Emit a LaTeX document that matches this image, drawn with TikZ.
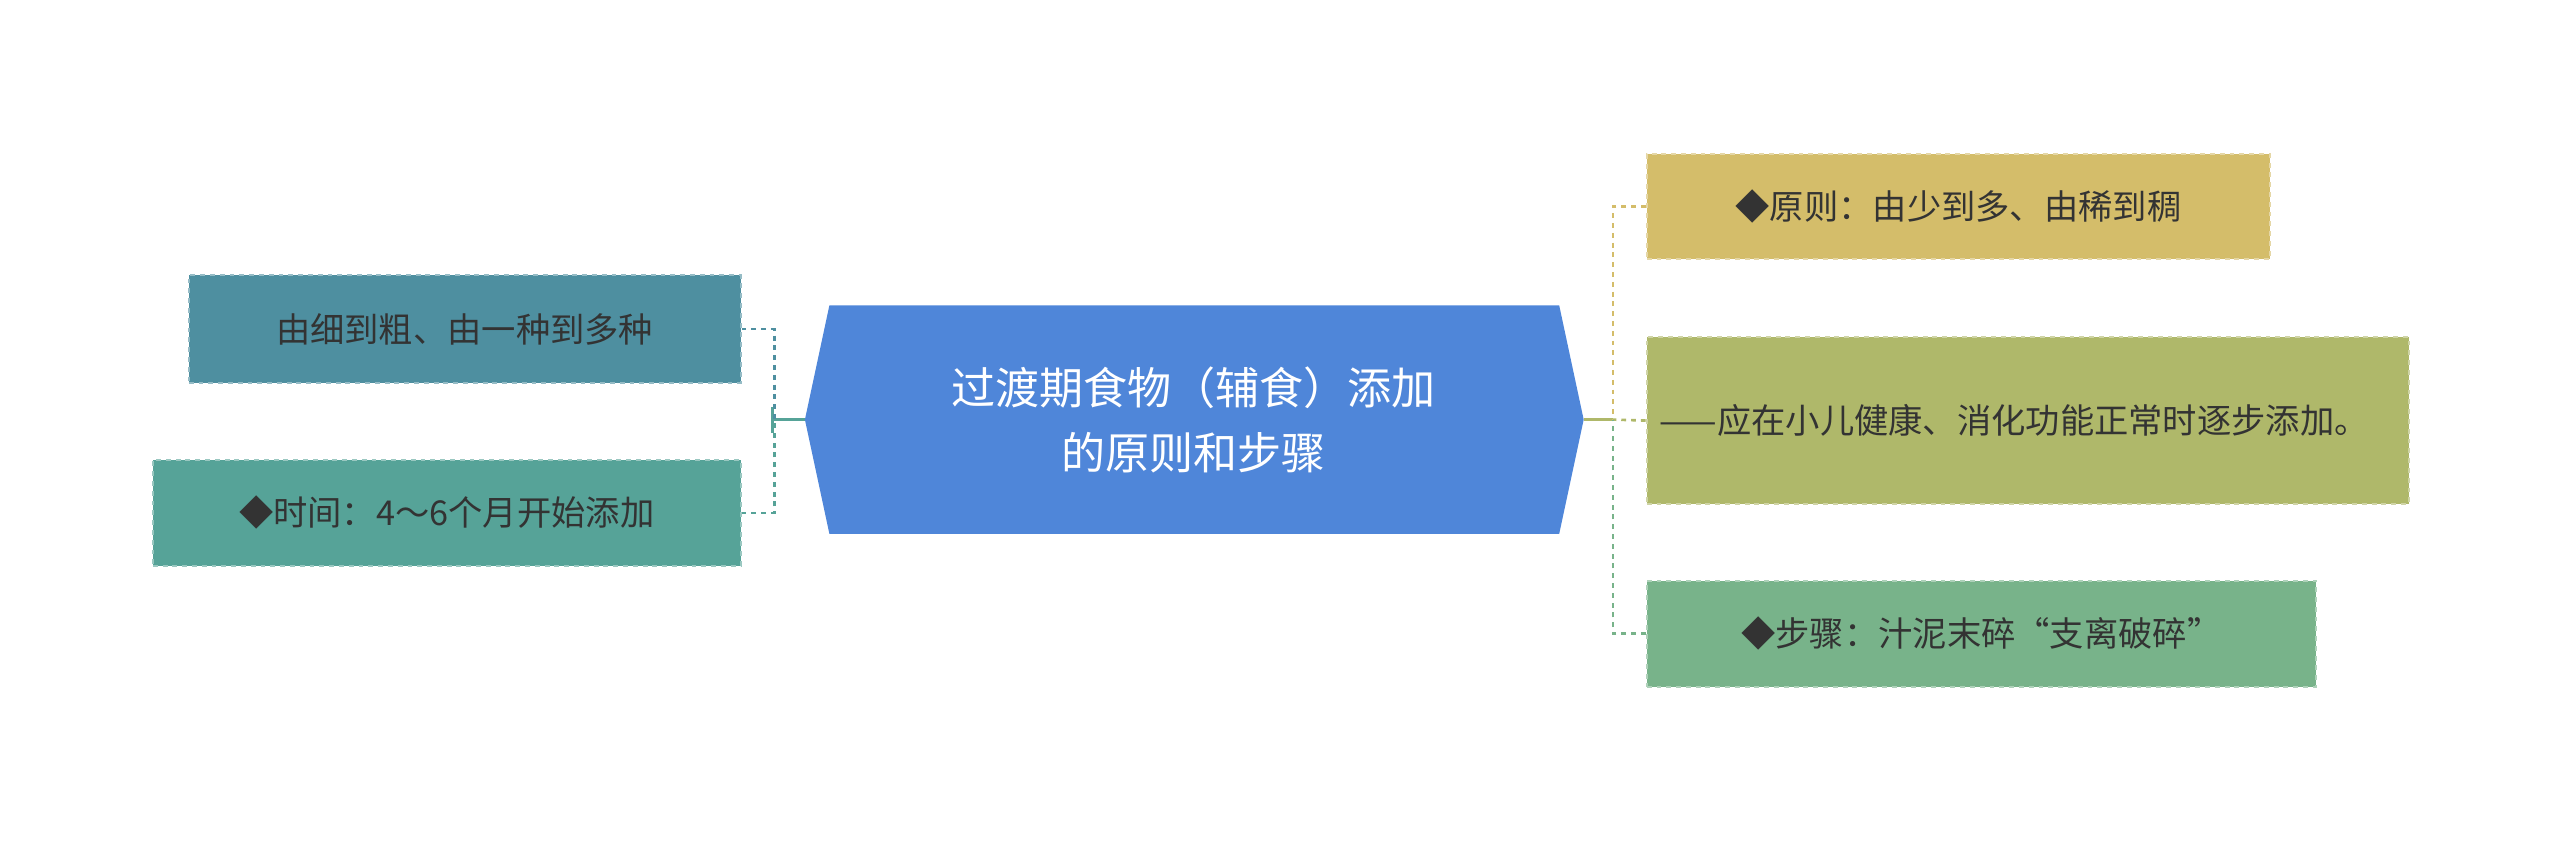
\documentclass[tikz,border=0pt]{standalone}
\usepackage{fontspec}
\setmainfont{Noto Sans CJK SC}
\begin{document}
\begin{tikzpicture}[x=1pt,y=-1pt,
 box/.style={draw,dashed,line width=1.2pt,anchor=north west,inner sep=0pt,text=black!80,font=\fontsize{21}{30}\selectfont,align=left},
 conn/.style={dashed,line width=1.6pt}]
\definecolor{cA}{HTML}{4E8FA0}\definecolor{cB}{HTML}{56A398}
\definecolor{cC}{HTML}{D4BD6A}\definecolor{cD}{HTML}{AFB86A}
\definecolor{cE}{HTML}{78B38A}\definecolor{cM}{HTML}{4F86D9}
\useasboundingbox (0,0) rectangle (1568,515);
% center
\fill[cM] (493,257) coordinate (cl) -- (508,187) -- (955,187) -- (970,257) coordinate (cr) -- (955,327) -- (508,327) -- cycle;
\node[text=white,font=\fontsize{27}{40}\selectfont,align=center] (c) at (731,257) {过渡期食物（辅食）添加\\的原则和步骤};
% left boxes
\node[box,fill=cA,draw=cA!60!white,minimum width=338pt,minimum height=66pt,text width=338pt,align=center] (l1) at (115,168) {由细到粗、由一种到多种};
\node[box,fill=cB,draw=cB!60!white,minimum width=360pt,minimum height=65pt,text width=360pt,align=center] (l2) at (93,281) {◆时间：4～6个月开始添加};
% right boxes
\node[box,fill=cC,draw=cC!60!white,minimum width=382pt,minimum height=64pt,text width=382pt,align=center] (r1) at (1008,94) {◆原则：由少到多、由稀到稠};
\node[box,fill=cD,draw=cD!60!white,minimum width=467pt,minimum height=102pt,text width=451pt,inner xsep=8pt] (r2) at (1008,206) {——应在小儿健康、消化功能正常时逐步添加。};
\node[box,fill=cE,draw=cE!60!white,minimum width=410pt,minimum height=65pt,text width=410pt,align=center] (r3) at (1008,355) {◆步骤：汁泥末碎“支离破碎”};
% left connectors
\coordinate (lj) at (473,257);
\draw[cB,line width=1.6pt] (cl) -- (lj) (473,249) -- (473,265);
\draw[conn,cA] (l1.east) -- ++(20,0) |- (lj);
\draw[conn,cB] (l2.east) -- ++(20,0) |- (lj);
% right connectors
\coordinate (rj) at (988,257);
\draw[cD,line width=1.6pt] (cr) -- (rj);
\draw[conn,cC] (r1.west) -- ++(-20,0) |- (rj);
\draw[conn,cD] (r2.west) -- (rj);
\draw[conn,cE] (r3.west) -- ++(-20,0) |- (rj);
\end{tikzpicture}
\end{document}
